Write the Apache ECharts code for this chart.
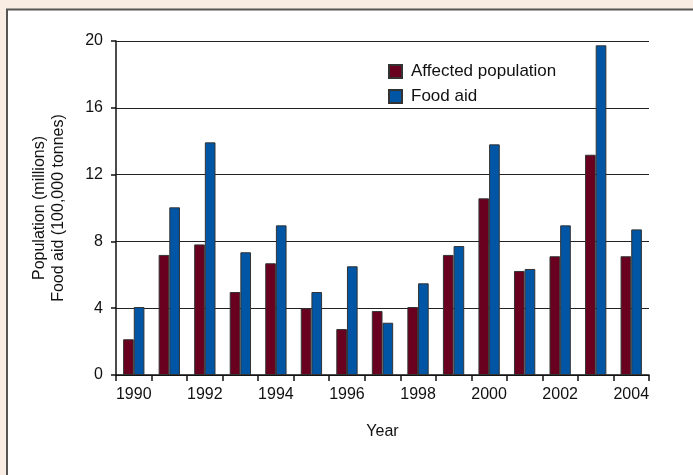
<!DOCTYPE html>
<html>
<head>
<meta charset="utf-8">
<script src="https://cdn.jsdelivr.net/npm/echarts@6/dist/echarts.min.js"></script>
<style>
html,body{margin:0;padding:0;background:#f9ede3;}
#chart{width:693px;height:475px;}
</style>
</head>
<body>
<div id="chart"></div>
<script>
const years = ['1990','1991','1992','1993','1994','1995','1996','1997','1998','1999','2000','2001','2002','2003','2004'];
const affectedPopulation = [2.14, 7.19, 7.82, 4.97, 6.69, 3.99, 2.75, 3.83, 4.07, 7.19, 10.58, 6.23, 7.11, 13.19, 7.11];
const foodAid = [4.07, 10.04, 13.93, 7.35, 8.96, 4.97, 6.51, 3.13, 5.49, 7.72, 13.81, 6.35, 8.96, 19.74, 8.72];
const yTicks = [0, 4, 8, 12, 16, 20];

const FONT = '"Liberation Sans", Arial, sans-serif';
const chart = echarts.init(document.getElementById('chart'), null, {renderer: 'canvas'});
chart.setOption({
  backgroundColor: '#f9ede3',
  animation: false,
  graphic: [{
    type: 'rect',
    z: -10,
    shape: {x: 7, y: 9.5, width: 700, height: 480},
    style: {fill: '#ffffff', stroke: '#555555', lineWidth: 2}
  }],
  legend: {
    orient: 'vertical',
    left: 383,
    top: 58,
    itemWidth: 13,
    itemHeight: 13,
    itemGap: 8,
    textStyle: {fontFamily: FONT, fontSize: 17, color: '#111', padding: [0, 0, 0, 4]},
    data: [
      {name: 'Affected population', icon: 'rect'},
      {name: 'Food aid', icon: 'rect'}
    ]
  },
  grid: {left: 116, right: 44, top: 41, bottom: 100, containLabel: false},
  xAxis: {
    type: 'category',
    data: years,
    boundaryGap: true,
    name: 'Year',
    nameLocation: 'middle',
    nameGap: 49,
    nameTextStyle: {fontFamily: FONT, fontSize: 16, color: '#111'},
    axisLine: {lineStyle: {color: '#111', width: 1.5}},
    axisTick: {show: true, interval: 0, length: 6, lineStyle: {color: '#111', width: 1.5}},
    axisLabel: {interval: 1, margin: 12, fontFamily: FONT, fontSize: 16, color: '#111'}
  },
  yAxis: {
    type: 'value',
    min: yTicks[0],
    max: yTicks[yTicks.length - 1],
    interval: yTicks[1] - yTicks[0],
    name: 'Population (millions)\nFood aid (100,000 tonnes)',
    nameLocation: 'middle',
    nameGap: 48,
    nameTextStyle: {fontFamily: FONT, fontSize: 16, color: '#111', lineHeight: 19},
    axisLine: {show: true, lineStyle: {color: '#111', width: 1.5}},
    axisTick: {show: true, length: 5, lineStyle: {color: '#111', width: 1.5}},
    axisLabel: {margin: 13, fontFamily: FONT, fontSize: 16, color: '#111'},
    splitLine: {show: true, lineStyle: {color: '#222', width: 1.2}}
  },
  series: [
    {
      name: 'Affected population',
      type: 'bar',
      data: affectedPopulation,
      barGap: '0%',
      barCategoryGap: '40%',
      itemStyle: {color: '#6a0020', borderColor: '#333', borderWidth: 1}
    },
    {
      name: 'Food aid',
      type: 'bar',
      data: foodAid,
      barGap: '0%',
      barCategoryGap: '40%',
      itemStyle: {color: '#0055a5', borderColor: '#333', borderWidth: 1}
    }
  ]
});
</script>
</body>
</html>
